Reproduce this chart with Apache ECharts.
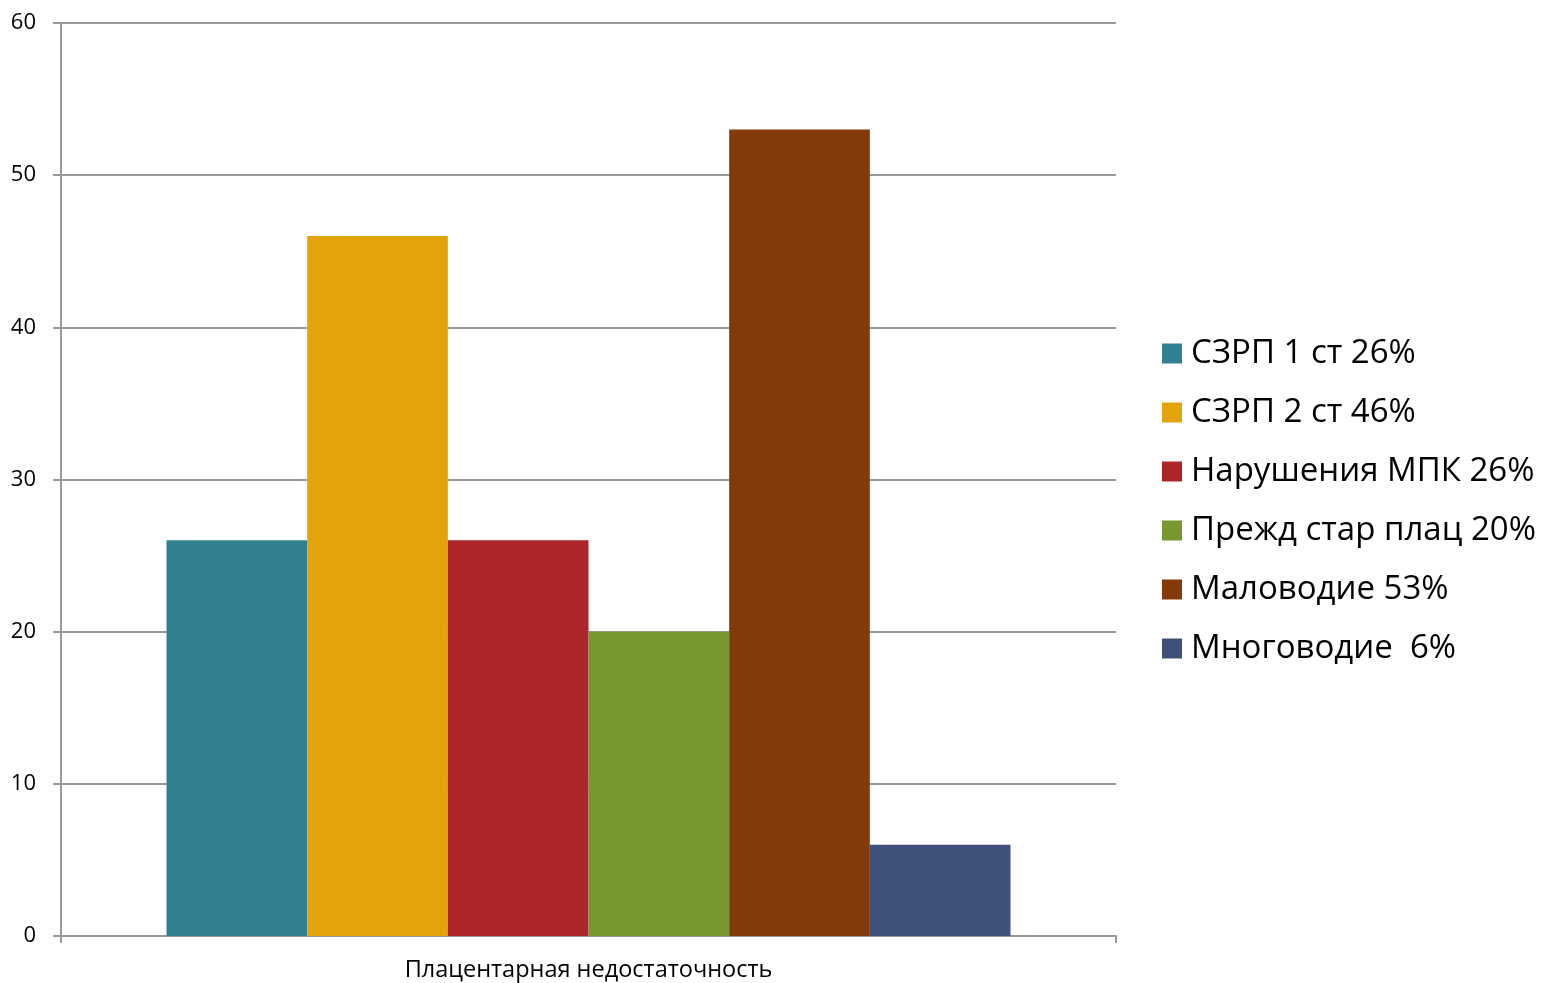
<!DOCTYPE html>
<html><head><meta charset="utf-8">
<script src="https://cdn.jsdelivr.net/npm/echarts@6/dist/echarts.min.js"></script>
<style>html,body{margin:0;padding:0;background:#fff}#c{width:1548px;height:983px}</style>
</head><body><div id="c"></div>
<script>
const categories = ['Плацентарная недостаточность'];
const seriesNames = ['СЗРП 1 ст 26%', 'СЗРП 2 ст 46%', 'Нарушения МПК 26%', 'Прежд стар плац 20%', 'Маловодие 53%', 'Многоводие  6%'];
const seriesValues = [26, 46, 26, 20, 53, 6];
const seriesColors = ['#31808F', '#E2A40A', '#AD272A', '#779730', '#843A08', '#3F527B'];
const yTicks = [0, 10, 20, 30, 40, 50, 60];

const chart = echarts.init(document.getElementById('c'), null, {renderer: 'canvas'});
const series = seriesNames.map((n, i) => ({
  name: n, type: 'bar', data: [seriesValues[i]],
  itemStyle: {color: seriesColors[i]},
  barGap: '0%', barCategoryGap: '20%'
}));
chart.setOption({
  animation: false,
  grid: {left: 61, right: 432, top: 23, bottom: 47, containLabel: false},
  legend: {
    orient: 'vertical', left: 1157, top: 332,
    itemWidth: 20, itemHeight: 20, itemGap: 26,
    icon: 'rect',
    textStyle: {fontFamily: 'Open Sans', fontSize: 33, color: '#000', lineHeight: 33, padding: [0,0,0,4]},
    data: seriesNames
  },
  xAxis: {
    type: 'category', data: categories,
    axisLine: {lineStyle: {color: '#999', width: 2}},
    axisTick: {show: true, length: 7, lineStyle: {color: '#999', width: 2}},
    axisLabel: {fontFamily: 'Open Sans', fontSize: 23.5, color: '#000', margin: 22}
  },
  yAxis: {
    type: 'value', min: yTicks[0], max: yTicks[yTicks.length-1], interval: 10,
    axisLine: {show: true, lineStyle: {color: '#999', width: 2}},
    axisTick: {show: true, length: 8, lineStyle: {color: '#999', width: 2}},
    axisLabel: {fontFamily: 'Open Sans', fontSize: 22, color: '#000', margin: 25},
    splitLine: {lineStyle: {color: '#999', width: 2}}
  },
  series: series
});
</script></body></html>
